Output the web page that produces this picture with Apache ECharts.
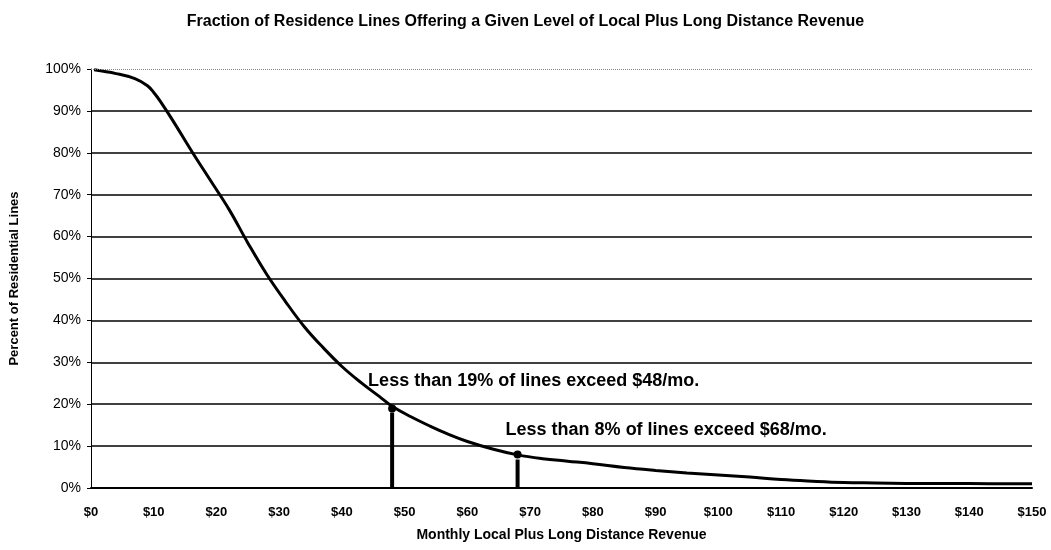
<!DOCTYPE html>
<html>
<head>
<meta charset="utf-8">
<script src="https://cdn.jsdelivr.net/npm/echarts@6/dist/echarts.min.js"></script>
<style>
  html, body { margin: 0; padding: 0; background: #fff; }
  #chart { width: 1051px; height: 550px; }
</style>
</head>
<body>
<div id="chart"></div>
<script>
// revenue ($/month) vs percent of residential lines exceeding it
const revenue = [0.5, 4, 7, 9, 10, 11, 13, 16, 19, 22, 25, 28, 31, 34, 37, 40, 43, 46, 48,
  51, 54, 57, 60, 64, 68, 72, 76, 80, 85, 90, 95, 100, 105, 110, 115, 120, 125, 130, 140, 150];
const pctLines = [99.8, 98.9, 97.7, 96.0, 94.4, 92.4, 87.8, 80.5, 73.5, 66.5, 58.5, 51, 44.5, 38.5, 33.5, 29, 25.2, 21.8, 19.5,
  17, 14.8, 12.8, 11.1, 9.3, 7.9, 7.0, 6.4, 5.8, 4.9, 4.2, 3.6, 3.1, 2.6, 2.0, 1.6, 1.3, 1.2, 1.1, 1.05, 1.0];

const markX = [48, 68];
const markY = [19, 8];
const dropTop = [18, 6.8];
const markText = [
  'Less than 19% of lines exceed $48/mo.',
  'Less than 8% of lines exceed $68/mo.'
];
const labelShift = [[-20, -23], [-8, -20]];

const FONT = 'Arial, "Liberation Sans", sans-serif';

const chart = echarts.init(document.getElementById('chart'));

const dropSeries = markX.map((x, i) => ({
  type: 'line',
  data: [[x, 0], [x, dropTop[i]]],
  symbol: 'none',
  silent: true,
  lineStyle: { color: '#000', width: 4 },
  z: 3
}));

chart.setOption({
  animation: false,
  backgroundColor: '#fff',
  title: {
    text: 'Fraction of Residence Lines Offering a Given Level of Local Plus Long Distance Revenue',
    left: 'center',
    top: 9,
    textStyle: { fontFamily: FONT, fontSize: 16, fontWeight: 'bold', color: '#000' }
  },
  grid: { left: 90, right: 19, top: 69, bottom: 62 },
  xAxis: {
    type: 'value',
    min: 0,
    max: 150,
    interval: 10,
    name: 'Monthly Local Plus Long Distance Revenue',
    nameLocation: 'middle',
    nameGap: 40,
    nameTextStyle: { fontFamily: FONT, fontSize: 14, fontWeight: 'bold', color: '#000' },
    axisLine: { lineStyle: { color: '#000', width: 2 } },
    axisTick: { show: false },
    axisLabel: {
      margin: 18,
      fontFamily: FONT, fontSize: 13, fontWeight: 'bold', color: '#000',
      formatter: v => '$' + v
    },
    splitLine: { show: false }
  },
  yAxis: {
    type: 'value',
    min: 0,
    max: 100,
    interval: 10,
    name: 'Percent of Residential Lines',
    nameLocation: 'middle',
    nameGap: 70,
    nameTextStyle: { fontFamily: FONT, fontSize: 13, fontWeight: 'bold', color: '#000' },
    axisLine: { show: true, lineStyle: { color: '#000', width: 1 } },
    axisTick: { show: true, length: 4, lineStyle: { color: '#000' } },
    axisLabel: {
      margin: 10,
      fontFamily: FONT, fontSize: 14, color: '#000',
      formatter: v => v + '%'
    },
    splitLine: { show: true, showMaxLine: false, lineStyle: { color: '#000', width: 1.5 } }
  },
  series: [
    {
      type: 'line',
      data: revenue.map((x, i) => [x, pctLines[i]]),
      smooth: 0.4,
      symbol: 'none',
      lineStyle: { color: '#000', width: 3 },
      z: 4,
      markLine: {
        silent: true,
        symbol: 'none',
        label: { show: false },
        lineStyle: { color: '#888', width: 1, type: 'dotted' },
        data: [{ yAxis: 100 }]
      }
    },
    ...dropSeries,
    {
      type: 'scatter',
      symbol: 'circle',
      symbolSize: 8,
      itemStyle: { color: '#000', opacity: 1 },
      z: 5,
      data: markX.map((x, i) => ({
        value: [x, markY[i]],
        label: {
          show: true,
          formatter: markText[i],
          position: labelShift[i],
          align: 'left',
          verticalAlign: 'middle',
          fontFamily: FONT,
          fontSize: 18,
          fontWeight: 'bold',
          color: '#000',
          opacity: 1
        }
      }))
    }
  ]
});
</script>
</body>
</html>
